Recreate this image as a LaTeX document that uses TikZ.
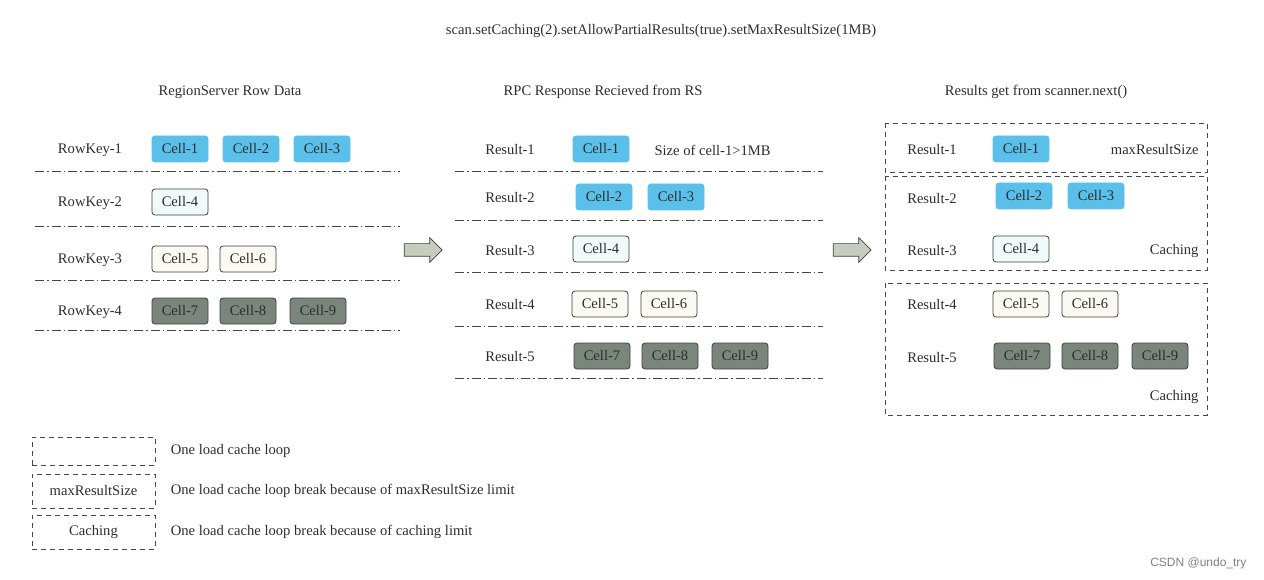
\documentclass[tikz,border=0pt]{standalone}
\usepackage{fontspec}
\setmainfont{Liberation Serif}
\newfontfamily\marksans{Liberation Sans}
\usetikzlibrary{shapes.arrows, positioning}
\definecolor{inktext}{RGB}{45,45,45}
\definecolor{cellblue}{RGB}{90,192,233}
\definecolor{celledge}{RGB}{60,64,60}
\definecolor{palecyan}{RGB}{240,250,250}
\definecolor{offwhite}{RGB}{250,250,242}
\definecolor{cellgray}{RGB}{122,133,124}
\definecolor{linegray}{RGB}{70,70,70}
\definecolor{arrowfill}{RGB}{200,204,190}
\tikzset{
    cell/.style = {rounded corners=3pt, minimum width=56pt, minimum height=26pt, inner sep=1pt, line width=0.8pt},
    blue cell/.style = {cell, fill=cellblue, draw=cellblue},
    pale cell/.style = {cell, fill=palecyan, draw=celledge},
    plain cell/.style = {cell, fill=offwhite, draw=celledge},
    dark cell/.style = {cell, fill=cellgray, draw=celledge},
    row line/.style = {draw=linegray, line width=0.8pt, dash pattern=on 9pt off 3pt on 1.5pt off 3pt},
    loop box/.style = {draw=linegray, line width=0.7pt, dash pattern=on 5pt off 4pt},
    step arrow/.style = {single arrow, draw=celledge, fill=arrowfill, line width=0.7pt, minimum height=38pt, inner xsep=0pt, inner ysep=6pt, single arrow head extend=6pt, single arrow tip angle=90},
}
\begin{document}
\begin{tikzpicture}[x=1pt, y=-1pt, font=\fontsize{14.6}{17}\selectfont, text=inktext]
                \useasboundingbox (0, 0) rectangle (1264, 580);

                \node (title) at (661, 31) {scan.setCaching(2).setAllowPartialResults(true).setMaxResultSize(1MB)};

                \node (head rs) at (230, 92) {RegionServer Row Data};
                \node (head rpc) at (603, 92) {RPC Response Recieved from RS};
                \node (head next) at (1036, 92) {Results get from scanner.next()};

                \node (rk1) at (90, 150) {RowKey-1};
                \node (rk2) at (90, 203) {RowKey-2};
                \node (rk3) at (90, 260) {RowKey-3};
                \node (rk4) at (90, 312) {RowKey-4};

                \node[blue cell] (rs c1) at (180, 149) {Cell-1};
                \node[blue cell] (rs c2) at (251, 149) {Cell-2};
                \node[blue cell] (rs c3) at (322, 149) {Cell-3};
                \node[pale cell] (rs c4) at (180, 202) {Cell-4};
                \node[plain cell] (rs c5) at (180, 259) {Cell-5};
                \node[plain cell] (rs c6) at (248, 259) {Cell-6};
                \node[dark cell] (rs c7) at (180, 311) {Cell-7};
                \node[dark cell] (rs c8) at (248, 311) {Cell-8};
                \node[dark cell] (rs c9) at (318, 311) {Cell-9};

                \foreach \y in {171, 226, 280, 330}
                    \draw[row line] (35, \y) -- (400, \y);

                \node[step arrow] (arr rs) at (420, 250) {};

                \node (rpc r1) at (510, 150) {Result-1};
                \node (rpc r2) at (510, 198) {Result-2};
                \node (rpc r3) at (510, 251) {Result-3};
                \node (rpc r4) at (510, 305) {Result-4};
                \node (rpc r5) at (510, 357) {Result-5};

                \node[blue cell] (rpc c1) at (601, 149) {Cell-1};
                \node[anchor=west] (rpc size) at (651, 150) {Size of cell-1>1MB};
                \node[blue cell] (rpc c2) at (604, 197) {Cell-2};
                \node[blue cell] (rpc c3) at (676, 197) {Cell-3};
                \node[pale cell] (rpc c4) at (601, 249) {Cell-4};
                \node[plain cell] (rpc c5) at (600, 304) {Cell-5};
                \node[plain cell] (rpc c6) at (669, 304) {Cell-6};
                \node[dark cell] (rpc c7) at (602, 356) {Cell-7};
                \node[dark cell] (rpc c8) at (670, 356) {Cell-8};
                \node[dark cell] (rpc c9) at (740, 356) {Cell-9};

                \foreach \y in {171, 220, 272, 326, 378}
                    \draw[row line] (455, \y) -- (823, \y);

                \node[step arrow] (arr rpc) at (849, 250) {};

                \draw[loop box] (885, 123) rectangle (1207, 172);
                \draw[loop box] (885, 176) rectangle (1207, 270);
                \draw[loop box] (885, 283) rectangle (1207, 415);

                \node (nx r1) at (932, 150) {Result-1};
                \node (nx r2) at (932, 199) {Result-2};
                \node (nx r3) at (932, 251) {Result-3};
                \node (nx r4) at (932, 305) {Result-4};
                \node (nx r5) at (932, 358) {Result-5};

                \node[blue cell] (nx c1) at (1021, 149) {Cell-1};
                \node[anchor=east] (nx max) at (1202, 150) {maxResultSize};
                \node[blue cell] (nx c2) at (1024, 196) {Cell-2};
                \node[blue cell] (nx c3) at (1096, 196) {Cell-3};
                \node[pale cell] (nx c4) at (1021, 249) {Cell-4};
                \node[anchor=east] (nx cache1) at (1202, 251) {Caching};
                \node[plain cell] (nx c5) at (1021, 304) {Cell-5};
                \node[plain cell] (nx c6) at (1090, 304) {Cell-6};
                \node[dark cell] (nx c7) at (1022, 356) {Cell-7};
                \node[dark cell] (nx c8) at (1090, 356) {Cell-8};
                \node[dark cell] (nx c9) at (1160, 356) {Cell-9};
                \node[anchor=east] (nx cache2) at (1202, 397) {Caching};

                \node[loop box, minimum width=123pt, minimum height=28pt] (lg loop) at (93.5, 451) {};
                \node[loop box, minimum width=123pt, minimum height=34pt] (lg max) at (93.5, 491) {maxResultSize};
                \node[loop box, minimum width=123pt, minimum height=34pt] (lg cache) at (93.5, 532) {Caching};
                \node[right=12pt of lg loop] (lg loop txt) {One load cache loop};
                \node[right=12pt of lg max] (lg max txt) {One load cache loop break because of maxResultSize limit};
                \node[right=12pt of lg cache] (lg cache txt) {One load cache loop break because of caching limit};

                \node[anchor=east, font=\marksans\fontsize{12}{14}\selectfont, text=gray] (mark) at (1250, 563) {CSDN @undo\_try};
            \end{tikzpicture}
\end{document}
